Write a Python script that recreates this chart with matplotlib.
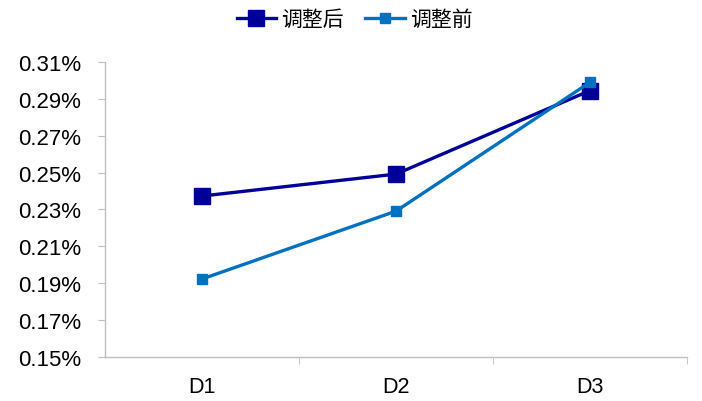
import matplotlib
matplotlib.use("Agg")
import matplotlib.pyplot as plt
from matplotlib.ticker import FuncFormatter

categories = ["D1", "D2", "D3"]
after_vals = [0.2373, 0.2492, 0.2945]   # 调整后
before_vals = [0.1923, 0.2291, 0.2990]  # 调整前
yticks = [0.15, 0.17, 0.19, 0.21, 0.23, 0.25, 0.27, 0.29, 0.31]

plt.rcParams['font.family'] = ['Liberation Sans', 'Noto Sans CJK SC', 'DejaVu Sans']

fig = plt.figure(figsize=(7.02, 4.02), dpi=100)
ax = fig.add_axes([0.1496, 0.1095, 0.829, 0.7338])

x = list(range(len(categories)))
ax.plot(x, after_vals, color='#000099', lw=2.4, marker='s', markersize=11,
        label='调整后', zorder=3)
ax.plot(x, before_vals, color='#0070C0', lw=2.4, marker='s', markersize=7,
        label='调整前', zorder=4)

ax.set_xlim(-0.5, 2.5)
ax.set_ylim(0.15, 0.31)
ax.set_yticks(yticks)
ax.yaxis.set_major_formatter(FuncFormatter(lambda v, p: f"{v:.2f}%"))
ax.set_xticks(x)
ax.set_xticklabels(categories)
ax.set_xticks([0.5, 1.5, 2.5], minor=True)
ax.tick_params(axis='x', which='major', length=0, pad=14, labelsize=15.5)
ax.tick_params(axis='x', which='minor', length=5, color='#BFBFBF', direction='out')
ax.tick_params(axis='y', length=5, color='#BFBFBF', direction='out', labelsize=16, pad=12)

for s in ['top', 'right']:
    ax.spines[s].set_visible(False)
for s in ['left', 'bottom']:
    ax.spines[s].set_color('#BFBFBF')
    ax.spines[s].set_linewidth(1)

leg = fig.legend(loc='center', bbox_to_anchor=(0.505, 0.95), ncol=2, frameon=False,
                 prop={'family': ['Noto Sans CJK SC', 'DejaVu Sans'], 'size': 15},
                 handlelength=1.9, handletextpad=0.25, columnspacing=1.0)

fig.savefig("out.png", dpi=100)
